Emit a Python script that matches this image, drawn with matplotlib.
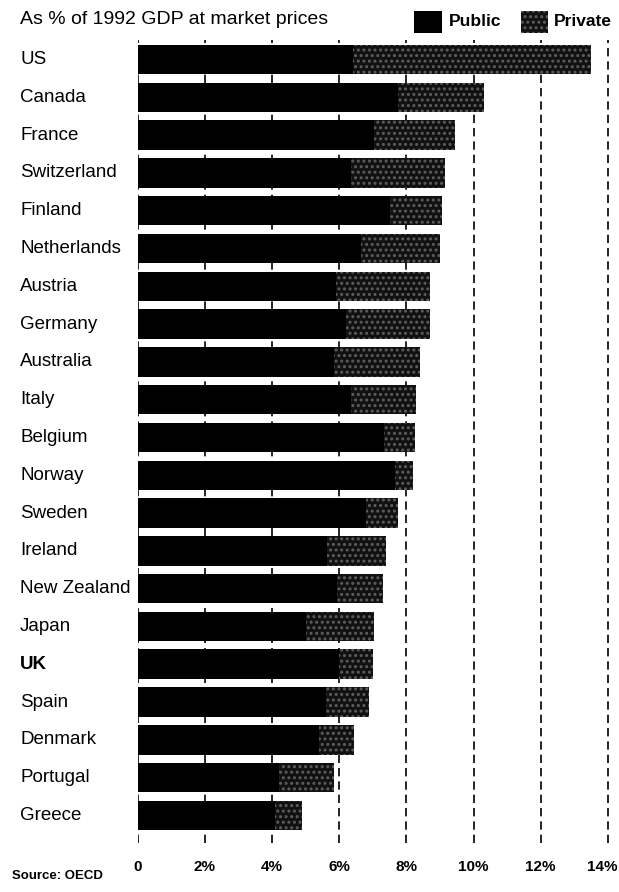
import matplotlib
matplotlib.use("Agg")
import matplotlib.pyplot as plt
from matplotlib.patches import Rectangle
from matplotlib.transforms import blended_transform_factory

plt.rcParams['font.family'] = ['Liberation Sans', 'DejaVu Sans']
plt.rcParams['hatch.linewidth'] = 1.4

countries = ["US", "Canada", "France", "Switzerland", "Finland", "Netherlands",
             "Austria", "Germany", "Australia", "Italy", "Belgium", "Norway",
             "Sweden", "Ireland", "New Zealand", "Japan", "UK", "Spain",
             "Denmark", "Portugal", "Greece"]
public = [6.4, 7.75, 7.05, 6.35, 7.5, 6.65,
          5.9, 6.2, 5.85, 6.35, 7.35, 7.65,
          6.8, 5.65, 5.95, 5.0, 6.0, 5.6,
          5.4, 4.2, 4.1]
total = [13.5, 10.3, 9.45, 9.15, 9.05, 9.0,
         8.7, 8.7, 8.4, 8.3, 8.25, 8.2,
         7.75, 7.4, 7.3, 7.05, 7.0, 6.9,
         6.45, 5.85, 4.9]
private = [t - p for t, p in zip(total, public)]
tick_values = [0, 2, 4, 6, 8, 10, 12, 14]
tick_labels = ["0", "2%", "4%", "6%", "8%", "10%", "12%", "14%"]

W, H = 619, 892
fig = plt.figure(figsize=(W / 100, H / 100), dpi=100)

x_left, x_right = 137.5, 137.5 + 14.1 * 33.6
y_top, y_bot = 40, 843
ax = fig.add_axes([x_left / W, 1 - y_bot / H, (x_right - x_left) / W, (y_bot - y_top) / H])

PRIV_FACE, PRIV_DOTS = "#111111", "#5e5e5e"

n = len(countries)
ypos = list(range(n))
ax.barh(ypos, public, height=0.78, color="black", zorder=2)
ax.barh(ypos, private, left=public, height=0.78, color=PRIV_FACE,
        edgecolor=PRIV_DOTS, hatch="...", linewidth=0, zorder=2)

ax.set_xlim(0, 14.1)
ax.set_ylim(n - 1 + 0.73, -0.516)
ax.set_xticks(tick_values)
ax.set_xticklabels(tick_labels, fontsize=11, fontweight="bold")
ax.tick_params(axis="x", length=0, pad=12)
ax.set_yticks([])
ax.grid(axis="x", color="black", linestyle=(0, (5, 3)), linewidth=1.2, zorder=1)
ax.set_axisbelow(True)
for s in ax.spines.values():
    s.set_visible(False)

# the last label is pushed right up against the figure's right edge
fig.canvas.draw()
last = ax.get_xticklabels()[-1]
last.set_visible(False)
tr_x = blended_transform_factory(fig.transFigure, last.get_transform())
ax.text(617 / W, last.get_position()[1], tick_labels[-1], transform=tr_x,
        ha="right", va=last.get_va(), fontsize=11, fontweight="bold")

# country names, left-aligned at a fixed figure position
tr = blended_transform_factory(fig.transFigure, ax.transData)
for i, name in enumerate(countries):
    ax.text(20 / W, i, name, transform=tr, ha="left", va="center",
            fontsize=13.5, fontweight="bold" if name == "UK" else "normal",
            color="black")

# title and legend
fig.text(20 / W, 1 - 19 / H, "As % of 1992 GDP at market prices",
         fontsize=14, ha="left", va="center")
fig.add_artist(Rectangle((414 / W, 1 - 33 / H), 28 / W, 22 / H,
                         transform=fig.transFigure, facecolor="black", edgecolor="none"))
fig.text(449 / W, 1 - 21 / H, "Public", fontsize=12.5, fontweight="bold",
         ha="left", va="center")
fig.add_artist(Rectangle((521 / W, 1 - 33 / H), 27 / W, 22 / H,
                         transform=fig.transFigure, facecolor=PRIV_FACE,
                         edgecolor=PRIV_DOTS, hatch="...", linewidth=0))
fig.text(554 / W, 1 - 21 / H, "Private", fontsize=12.5, fontweight="bold",
         ha="left", va="center")

fig.text(12 / W, 1 - 876 / H, "Source: OECD", fontsize=9.5, fontweight="bold",
         ha="left", va="center")

fig.savefig("out.png", dpi=100, facecolor="white")
